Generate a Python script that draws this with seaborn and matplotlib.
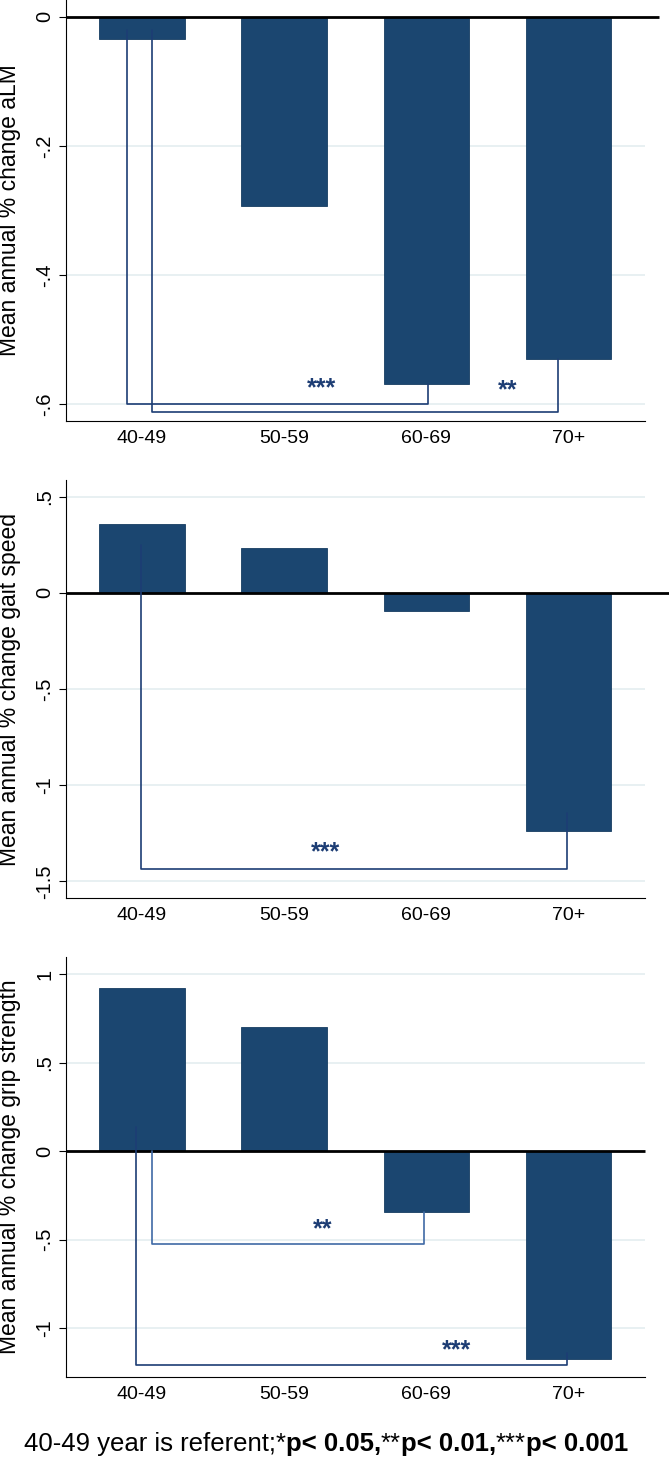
import pandas as pd
import seaborn as sns
import matplotlib.pyplot as plt

# age groups and mean annual % change per outcome
ages = ["40-49", "50-59", "60-69", "70+"]
alm = [-0.034, -0.293, -0.569, -0.530]
gait = [0.360, 0.234, -0.092, -1.236]
grip = [0.923, 0.704, -0.343, -1.177]

ylabels = ["Mean annual % change aLM",
           "Mean annual % change gait speed",
           "Mean annual % change grip strength"]

yticks = [[0, -0.2, -0.4, -0.6],
          [0.5, 0, -0.5, -1, -1.5],
          [1, 0.5, 0, -0.5, -1]]
yticklabels = [["0", "-.2", "-.4", "-.6"],
               [".5", "0", "-.5", "-1", "-1.5"],
               ["1", ".5", "0", "-.5", "-1"]]

# significance brackets: (x left, y left top, y bottom, x right, y right top, stars, star x, star y)
brackets = [
    [(-0.108, -0.02, -0.600, 2.01, -0.569, "***", 1.26, -0.557),
     (0.068, -0.02, -0.613, 2.93, -0.530, "**", 2.57, -0.561)],
    [(-0.005, 0.248, -1.437, 2.99, -1.146, "***", 1.29, -1.285)],
    [(0.067, 0.0, -0.525, 1.987, -0.343, "**", 1.27, -0.371),
     (-0.044, 0.137, -1.211, 2.99, -1.143, "***", 2.21, -1.058)],
]

sns.set_style("white")
plt.rcParams['font.family'] = ['Liberation Sans', 'DejaVu Sans']
plt.rcParams.update({"text.color": "black", "axes.labelcolor": "black",
                     "xtick.color": "black", "ytick.color": "black"})

bar_color = "#1b4670"
line_color = "#1d3d74"
light_line = "#3f6aa6"
grid_color = "#e6eff1"

fig = plt.figure(figsize=(6.69, 14.61), dpi=100)
H = 1461.0
W = 669.0
left = 66 / W
width = (645 - 66) / W
panels = [(0, 420.7), (480, 898.3), (957, 1376.7)]
ylims = [(-0.626, 0.026), (-1.588, 0.587), (-1.275, 1.098)]
zero_ext = [1.024, 1.05, 1.0]

for i, vals in enumerate([alm, gait, grip]):
    top, bot = panels[i]
    ax = fig.add_axes([left, 1 - bot / H, width, (bot - top) / H])
    df = pd.DataFrame({"age": ages, "change": vals})
    sns.barplot(data=df, x="age", y="change", color=bar_color, saturation=1,
                width=0.6, edgecolor="#163d62", linewidth=0.6, ax=ax, zorder=2)
    ax.set_xlim(-0.535, 3.54)
    ax.set_ylim(*ylims[i])
    for t in yticks[i]:
        if t != 0:
            ax.axhline(t, color=grid_color, lw=1.3, zorder=0)
    ax.plot([0, zero_ext[i]], [0, 0], transform=ax.get_yaxis_transform(),
            color="black", lw=2.0, zorder=4, clip_on=False, solid_capstyle="butt")

    ax.set_yticks(yticks[i])
    ax.set_yticklabels(yticklabels[i], rotation=90, va="center")
    ax.tick_params(axis="y", length=5, width=0.8, pad=3.5, labelsize=14.5, left=True)
    ax.tick_params(axis="x", length=0, pad=6.5, labelsize=14)
    ax.set_xlabel("")
    ax.set_ylabel(ylabels[i], fontsize=16.5)
    ax.yaxis.set_label_coords(-0.078, 0.5)
    for s in ["top", "right"]:
        ax.spines[s].set_visible(False)
    for s in ["left", "bottom"]:
        ax.spines[s].set_color("black")
        ax.spines[s].set_linewidth(0.8)

    for j, (xl, yl, yb, xr, yr, stars, sx, sy) in enumerate(brackets[i]):
        c = light_line if (i == 2 and j == 0) else line_color
        ax.plot([xl, xl, xr, xr], [yl, yb, yb, yr], color=c, lw=1.2, zorder=5)
        ax.text(sx, sy, stars, color=line_color, fontsize=18, fontweight="bold",
                ha="center", va="top", zorder=6)

# footer with mixed weights
segs = [("40-49 year is referent;*", "normal"), ("p< 0.05,", "bold"),
        ("**", "normal"), ("p< 0.01,", "bold"), ("***", "normal"), ("p< 0.001", "bold")]
texts = [fig.text(0, 0.007, s, fontweight=w, fontsize=18.5, va="baseline", ha="left")
         for s, w in segs]
r = fig.canvas.get_renderer()
widths = [t.get_window_extent(r).width for t in texts]
x = 326 - sum(widths) / 2
for t, w in zip(texts, widths):
    t.set_x(x / W)
    x += w

fig.savefig("out.png", dpi=100)
